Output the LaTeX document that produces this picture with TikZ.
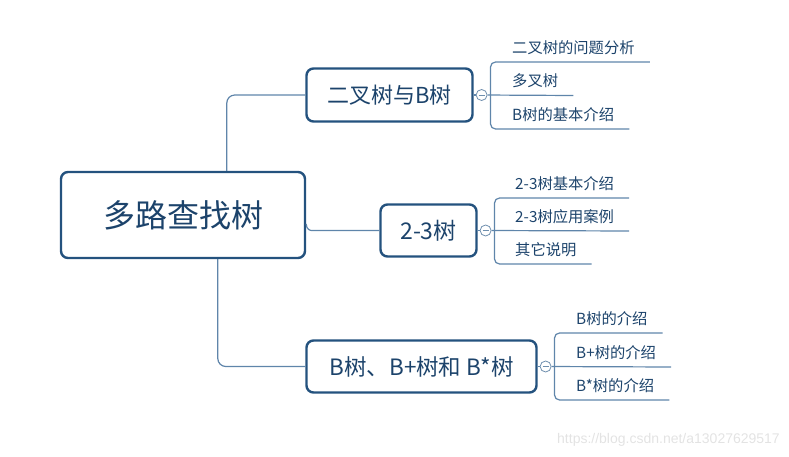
\documentclass[tikz,border=0pt]{standalone}
\usepackage{fontspec}
\setmainfont{Noto Sans CJK SC}
\newfontfamily\markfont{Liberation Sans}
\usepackage{xcolor}
\usetikzlibrary{positioning}

\definecolor{boxblue}{HTML}{24527E}
\definecolor{textblue}{HTML}{1C436B}
\definecolor{linkblue}{HTML}{5F85AA}
\definecolor{foldgray}{HTML}{6F8FAE}

\begin{document}
\begin{tikzpicture}[
        x=1pt, y=-1pt,
        topic/.style={draw=boxblue, line width=2.4pt, rounded corners=7pt, fill=white,
            text=textblue, inner sep=0pt},
        item/.style={anchor=west, inner sep=0pt, text=textblue,
            font=\fontsize{15.3}{17}\selectfont},
        link/.style={draw=linkblue, line width=1.2pt, rounded corners=8pt},
        sublink/.style={draw=linkblue, line width=1.2pt, rounded corners=5pt},
        fold/.style={circle, draw=foldgray, fill=white, line width=0.8pt,
            minimum size=11pt, inner sep=0pt,
            path picture={\draw[foldgray, line width=0.8pt]
                ([xshift=-3pt]path picture bounding box.center) --
                ([xshift=3pt]path picture bounding box.center);}}
        ]
        \useasboundingbox (0,0) rectangle (789,457);

        % Central topic
        \node[topic, minimum width=244pt, minimum height=86pt,
            font=\fontsize{32}{36}\selectfont] (root) at (183,215) {多路查找树};

        % Main topics
        \node[topic, minimum width=166pt, minimum height=53pt,
            font=\fontsize{22}{26}\selectfont] (btree) at (389.5,95) {二叉树与B树};
        \node[topic, minimum width=96pt, minimum height=52pt,
            font=\fontsize{23}{26}\selectfont] (ttree) at (428.5,230.5) {2-3树};
        \node[topic, minimum width=230pt, minimum height=52pt,
            font=\fontsize{22.5}{26}\selectfont] (bplus) at (421.5,366.5) {B树、B+树和 B*树};

        % Fold markers
        \node[fold, right=2pt of btree] (f1) {};
        \node[fold, right=2pt of ttree] (f2) {};
        \node[fold, right=2pt of bplus] (f3) {};

        % Subtopics
        \node[item] (i11) at (512,47.5) {二叉树的问题分析};
        \node[item] (i12) at (512,81) {多叉树};
        \node[item] (i13) at (512,114.5) {B树的基本介绍};

        \node[item] (i21) at (515,183.5) {2-3树基本介绍};
        \node[item] (i22) at (515,216.5) {2-3树应用案例};
        \node[item] (i23) at (515,249.5) {其它说明};

        \node[item] (i31) at (576,318.5) {B树的介绍};
        \node[item] (i32) at (576,352.5) {B+树的介绍};
        \node[item] (i33) at (576,385.5) {B*树的介绍};

        % Connections from the central topic
        \draw[link] ([xshift=167pt]root.north west) |- (btree.west);
        \draw[link] ([yshift=-9pt]root.east) .. controls ([yshift=-15pt]root.east)
            and ([xshift=-68pt]ttree.west) .. ([xshift=-60pt]ttree.west) -- (ttree.west);
        \draw[link] ([xshift=158pt]root.south west) |- (bplus.west);

        % Connections to subtopics
        \foreach \t/\f in {btree/f1, ttree/f2, bplus/f3}
            \draw[sublink] (\t) -- (\f);

        \foreach \f/\g in {f1/1, f2/2, f3/3} {
            \draw[sublink] ([xshift=3pt]\f.east) |- ([xshift=15pt,yshift=-14.5pt]i\g1.east);
            \draw[sublink] (\f) -- ([xshift=15pt,yshift=-14.5pt]i\g2.east);
            \draw[sublink] ([xshift=3pt]\f.east) |- ([xshift=15pt,yshift=-14.5pt]i\g3.east);
        }

        % Watermark
        \node[anchor=east, inner sep=0pt, text=black!11,
            font=\fontsize{14}{16}\markfont] (mark) at (780,440) {https://blog.csdn.net/a13027629517};

    \end{tikzpicture}
\end{document}
